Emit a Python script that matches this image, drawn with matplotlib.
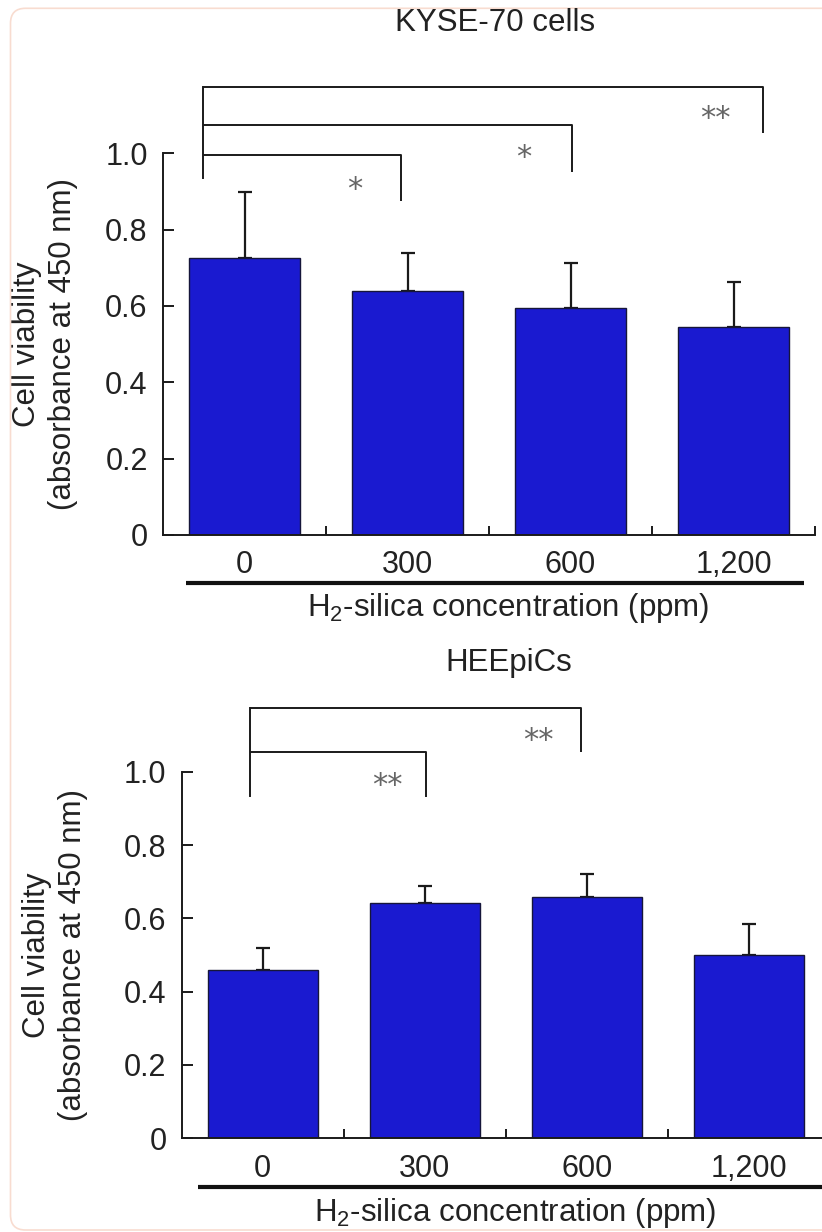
import numpy as np
import matplotlib
matplotlib.use("Agg")
import matplotlib.pyplot as plt
from matplotlib.transforms import blended_transform_factory
from matplotlib.patches import FancyBboxPatch

plt.rcParams['font.family'] = ['Liberation Sans', 'DejaVu Sans']
plt.rcParams['mathtext.fontset'] = 'custom'
plt.rcParams['mathtext.rm'] = 'Liberation Sans'
plt.rcParams['mathtext.it'] = 'Liberation Sans:italic'

# ---------------- data ----------------
categories = ['0', '300', '600', '1,200']
kyse_mean = [0.727, 0.638, 0.594, 0.546]
kyse_err = [0.172, 0.100, 0.118, 0.118]
hee_mean = [0.459, 0.643, 0.657, 0.499]
hee_err = [0.059, 0.046, 0.065, 0.085]
yticks = [0, 0.2, 0.4, 0.6, 0.8, 1.0]
ytick_labels = ['0', '0.2', '0.4', '0.6', '0.8', '1.0']
kyse_title = 'KYSE-70 cells'
hee_title = 'HEEpiCs'
xlabel = 'H$_2$-silica concentration (ppm)'
ylabel = 'Cell viability\n(absorbance at 450 nm)'
kyse_sig = ['*', '*', '**']      # 0 vs 300, 0 vs 600, 0 vs 1,200
hee_sig = ['**', '**']           # 0 vs 300, 0 vs 600

# ---------------- styles / layout ----------------
BAR = '#1a1ad0'
EDGE = '#16163a'
LINE = '#1a1a1a'
STAR = '#666666'

W, H = 822, 1232
fig = plt.figure(figsize=(W / 100, H / 100), dpi=100)

# rounded frame
frame = FancyBboxPatch((0.105, 0.02), 9.0, 12.32 - 0.083 - 0.02,
                       boxstyle='round,pad=0,rounding_size=0.15',
                       transform=fig.dpi_scale_trans, facecolor='none',
                       edgecolor='#f8dcd0', linewidth=1.2, zorder=0)
fig.patches.append(frame)


def px_axes(left, right, top, bottom):
    return fig.add_axes([left / W, 1 - bottom / H, (right - left) / W, (bottom - top) / H])


def panel(ax, means, errs):
    x = np.arange(len(categories))
    ax.errorbar(x, means, yerr=[np.zeros(len(errs)), errs], fmt='none',
                ecolor=LINE, elinewidth=1.6, capsize=5, capthick=1.6, zorder=1)
    ax.bar(x, means, width=0.68, color=BAR, edgecolor=EDGE, linewidth=1.0, zorder=2)
    ax.set_xlim(-0.5, 3.5)
    ax.set_ylim(0, 1.0)
    for s in ['top', 'right']:
        ax.spines[s].set_visible(False)
    for s in ['left', 'bottom']:
        ax.spines[s].set_linewidth(1.4)
        ax.spines[s].set_color(LINE)
    ax.set_yticks(yticks)
    ax.set_yticklabels(ytick_labels)
    ax.tick_params(axis='y', direction='in', length=7.7, width=1.4, pad=11,
                   labelsize=22, color=LINE, labelcolor='#222')
    ax.set_xticks([0.5, 1.5, 2.5, 3.5])
    ax.set_xticklabels([])
    ax.tick_params(axis='x', which='major', direction='in', length=6.5, width=1.4, color=LINE)
    ax.set_xticks(x, minor=True)
    ax.set_xticklabels(categories, minor=True)
    ax.tick_params(axis='x', which='minor', length=0, pad=11, labelsize=22, labelcolor='#222')
    ax.set_facecolor('none')


def bracket(ax, xl, xr, ytop, ybot):
    ax.plot([xl, xr, xr], [ytop, ytop, ybot], color=LINE, lw=1.4, clip_on=False,
            solid_capstyle='butt', zorder=3)


def star(ax, x, y, s):
    ax.text(x, y, s, ha='center', va='baseline', fontsize=22, color=STAR,
            family='DejaVu Sans', clip_on=False)


# ---------------- top panel ----------------
ax1 = px_axes(163, 815, 153.3, 535)
panel(ax1, kyse_mean, kyse_err)
ax1.plot([-0.252, -0.252], [0.935, 1.174], color=LINE, lw=1.4, clip_on=False)
bracket(ax1, -0.252, 3.178, 1.174, 1.054)
bracket(ax1, -0.252, 2.01, 1.074, 0.952)
bracket(ax1, -0.252, 0.961, 0.996, 0.875)
star(ax1, 0.679, 0.933 - 0.05, kyse_sig[0])
star(ax1, 1.715, 1.017 - 0.05, kyse_sig[1])
star(ax1, 2.89, 1.119 - 0.05, kyse_sig[2])
tr1 = blended_transform_factory(ax1.transData, ax1.transAxes)
ax1.plot([-0.36, 3.43], [-0.125, -0.125], transform=tr1, color='#111', lw=3,
         clip_on=False, solid_capstyle='butt')
ax1.set_xlabel(xlabel, fontsize=22.5, va='center', color='#222')
ax1.xaxis.set_label_coords(0.53, -0.191)
ax1.set_ylabel(ylabel, fontsize=22.5, va='center', ha='center', linespacing=1.3, color='#222')
ax1.yaxis.set_label_coords(-0.181, 0.5)
fig.text(495 / W, 1 - 23 / H, kyse_title, ha='center', va='center', fontsize=22.5, color='#222')

# ---------------- bottom panel ----------------
ax2 = px_axes(181.7, 829.7, 771.7, 1138.3)
panel(ax2, hee_mean, hee_err)
ax2.plot([-0.079, -0.079], [0.933, 1.174], color=LINE, lw=1.4, clip_on=False)
bracket(ax2, -0.079, 1.964, 1.174, 1.054)
bracket(ax2, -0.079, 1.011, 1.054, 0.9316)
star(ax2, 0.767, 0.988 - 0.05, hee_sig[0])
star(ax2, 1.70, 1.111 - 0.05, hee_sig[1])
tr2 = blended_transform_factory(ax2.transData, ax2.transAxes)
ax2.plot([-0.40, 3.6], [-0.1336, -0.1336], transform=tr2, color='#111', lw=3,
         clip_on=False, solid_capstyle='butt')
ax2.set_xlabel(xlabel, fontsize=22.5, va='center', color='#222')
ax2.xaxis.set_label_coords(0.514, -0.204)
ax2.set_ylabel(ylabel, fontsize=22.5, va='center', ha='center', linespacing=1.3, color='#222')
ax2.yaxis.set_label_coords(-0.1955, 0.5)
fig.text(508.6 / W, 1 - 663 / H, hee_title, ha='center', va='center', fontsize=22.5, color='#222')

fig.savefig('out.png', dpi=100)
